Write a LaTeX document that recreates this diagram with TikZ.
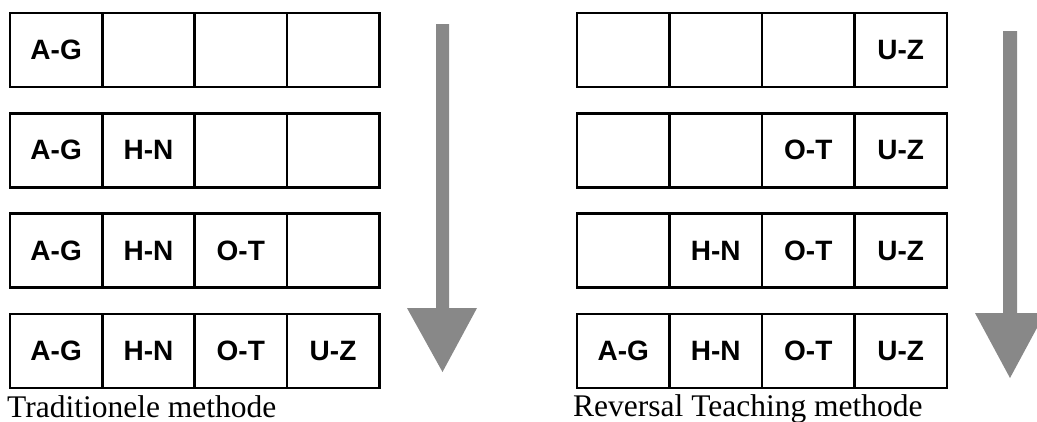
\documentclass[tikz,border=0pt]{standalone}
\usepackage{fontspec}
\setmainfont{Liberation Serif}
\newfontfamily\cellfont{Liberation Sans}
\definecolor{arrowgray}{HTML}{888888}
\begin{document}
\begin{tikzpicture}[x=1pt,y=-1pt,
  cell/.style={draw=black, line width=2.6pt, fill=white, rectangle, minimum width=92.3pt, minimum height=74pt, inner sep=0pt, font=\cellfont\bfseries\fontsize{28}{30}\selectfont},
  caption/.style={anchor=base west, inner sep=0pt, font=\fontsize{31.5}{34}\selectfont},
  bigarrow/.style={fill=arrowgray, draw=none}]
\useasboundingbox (0,0) rectangle (1037,421);
\fill[white] (0,0) rectangle (1037,421);
% left panel: traditional
\foreach \r/\labs in {1/{A-G,,,},2/{A-G,H-N,,},3/{A-G,H-N,O-T,},4/{A-G,H-N,O-T,U-Z}}{
  \foreach \t [count=\c] in \labs {
    \node[cell] (L\r-\c) at ({10+92.3*(\c-0.5)},{50+100.3*(\r-1)}) {\t};
  }
}
% right panel: reversal
\foreach \r/\labs in {1/{,,,U-Z},2/{,,O-T,U-Z},3/{,H-N,O-T,U-Z},4/{A-G,H-N,O-T,U-Z}}{
  \foreach \t [count=\c] in \labs {
    \node[cell] (R\r-\c) at ({577+92.5*(\c-0.5)},{50+100.3*(\r-1)}) {\t};
  }
}
% arrows
\fill[bigarrow] (436,24) -- (449,24) -- (449,308) -- (477,308) -- (442.5,372) -- (407,308) -- (436,308) -- cycle;
\fill[bigarrow] (1003,31) -- (1017,31) -- (1017,313) -- (1045,313) -- (1010,378) -- (975,313) -- (1003,313) -- cycle;
% captions
\node[caption] (capL) at (7,417) {Traditionele methode};
\node[caption] (capR) at (573,416) {Reversal Teaching methode};
\end{tikzpicture}
\end{document}
